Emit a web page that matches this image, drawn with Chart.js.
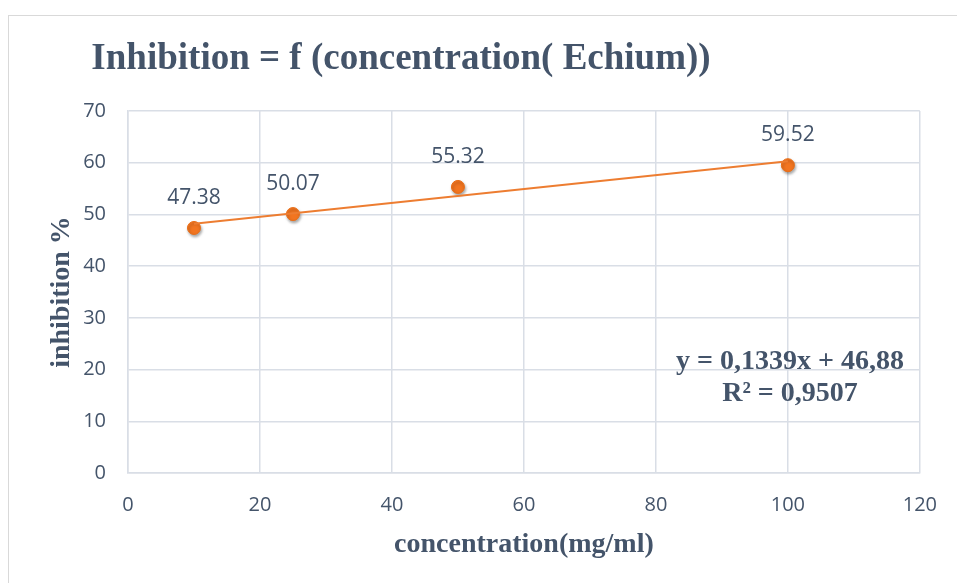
<!DOCTYPE html>
<html>
<head>
<meta charset="utf-8">
<script src="https://cdn.jsdelivr.net/npm/chart.js@4.4.1/dist/chart.umd.min.js"></script>
<style>
html,body{margin:0;padding:0;background:#fff;}
#wrap{position:relative;width:957px;height:583px;overflow:hidden;}
#frame{position:absolute;left:8px;top:15px;width:1200px;height:1200px;border:1px solid #D9D9D9;box-sizing:border-box;}
canvas{position:absolute;left:0;top:0;}
</style>
</head>
<body>
<div id="wrap">
<div id="frame"></div>
<canvas id="c" width="957" height="583"></canvas>
</div>
<script>
const concentrations = [10, 25, 50, 100];
const inhibition = [47.38, 50.07, 55.32, 59.52];
const dataLabels = ["47.38", "50.07", "55.32", "59.52"];
const trendX = [10, 100];
const trendY = [48.22, 60.27];
const chartTitle = "Inhibition = f (concentration( Echium))";
const xTitle = "concentration(mg/ml)";
const yTitle = "inhibition %";
const equationLines = ["y = 0,1339x + 46,88", "R\u00B2 = 0,9507"];

const TXT = '#44546A';
const ORANGE = '#ED7D31';
const GRID = '#D9DEE6';
const SERIF = '"Liberation Serif", "Times New Roman", serif';
const SANS = '"Open Sans", "Noto Sans", sans-serif';

const overlay = {
  id: 'overlay',
  beforeDatasetDraw(chart, args) {
    if (args.index === 1) {
      const ctx = chart.ctx;
      ctx.save();
      ctx.shadowColor = 'rgba(0,0,0,0.35)';
      ctx.shadowBlur = 3;
      ctx.shadowOffsetX = 1;
      ctx.shadowOffsetY = 2;
    }
  },
  afterDatasetDraw(chart, args) {
    if (args.index === 1) chart.ctx.restore();
  },
  afterDraw(chart) {
    const ctx = chart.ctx;
    ctx.save();
    ctx.fillStyle = TXT;
    ctx.font = 'bold 37px ' + SERIF;
    ctx.textAlign = 'center';
    ctx.textBaseline = 'middle';
    ctx.fillText(chartTitle, 401, 59);
    const meta = chart.getDatasetMeta(1);
    ctx.font = '21px ' + SANS;
    meta.data.forEach((pt, i) => {
      ctx.fillText(dataLabels[i], pt.x, pt.y - 30);
    });
    ctx.font = 'bold 28px ' + SERIF;
    ctx.fillText(equationLines[0], 790, 362);
    ctx.fillText(equationLines[1], 790, 394);
    ctx.restore();
  }
};

new Chart(document.getElementById('c'), {
  type: 'scatter',
  data: {
    datasets: [
      {
        label: 'trend',
        data: trendX.map((x, i) => ({x: x, y: trendY[i]})),
        showLine: true,
        borderColor: ORANGE,
        borderWidth: 2,
        pointRadius: 0,
        fill: false
      },
      {
        label: 'inhibition',
        data: concentrations.map((x, i) => ({x: x, y: inhibition[i]})),
        backgroundColor: '#F27520',
        borderColor: '#EA6E16',
        borderWidth: 1,
        pointRadius: 6.5
      }
    ]
  },
  options: {
    responsive: false,
    animation: false,
    layout: {padding: {left: 0, top: 111, right: 36, bottom: 0}},
    plugins: {legend: {display: false}, tooltip: {enabled: false}, title: {display: false}},
    scales: {
      x: {
        type: 'linear', min: 0, max: 120,
        ticks: {stepSize: 20, color: TXT, font: {family: SANS, size: 20}, padding: 20},
        grid: {color: GRID, lineWidth: 1.5, drawTicks: false},
        border: {color: GRID, width: 1.5},
        title: {display: true, text: xTitle, color: TXT, font: {family: SERIF, size: 28, weight: 'bold'}, padding: {top: 0, bottom: 21}},
        afterFit(s) { s.height = 110; }
      },
      y: {
        type: 'linear', min: 0, max: 70,
        ticks: {stepSize: 10, color: TXT, font: {family: SANS, size: 20}, padding: 22},
        grid: {color: GRID, lineWidth: 1.5, drawTicks: false},
        border: {color: GRID, width: 1.5},
        title: {display: true, text: yTitle, color: TXT, font: {family: SERIF, size: 28, weight: 'bold'}, padding: {top: 45, bottom: 0}},
        afterFit(s) { s.width = 128; }
      }
    }
  },
  plugins: [overlay]
});
</script>
</body>
</html>
